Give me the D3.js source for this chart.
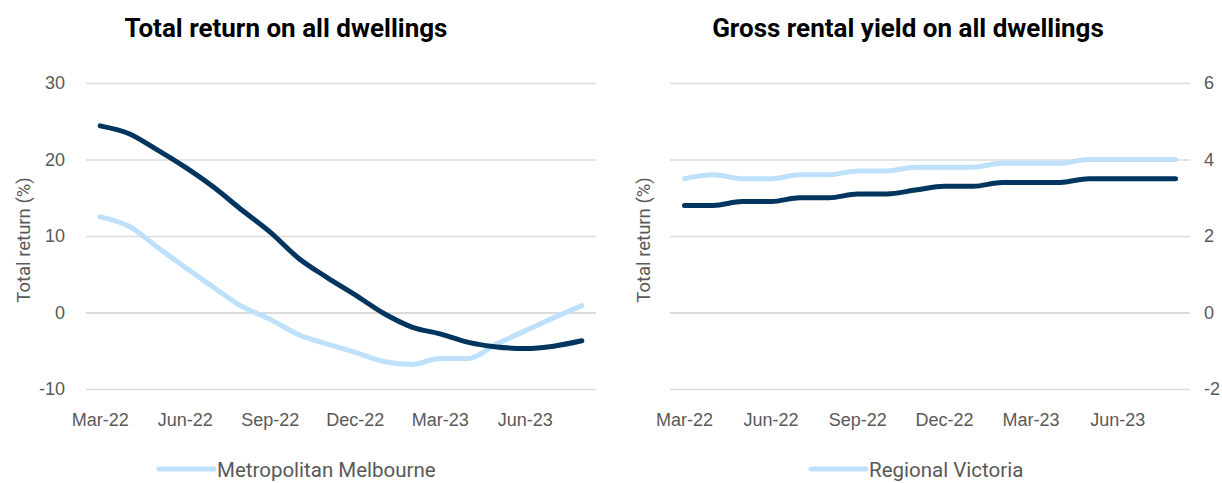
<!DOCTYPE html>
<html>
<head>
<meta charset="utf-8">
<script src="https://cdn.jsdelivr.net/npm/d3@7"></script>
<style>
  body { margin: 0; background: #fff; }
  svg { font-family: Roboto, "Liberation Sans", sans-serif; }
</style>
</head>
<body>
<div class="chart"></div>
<script>
// months Mar-22 .. Aug-23
const months = ["Mar-22","Apr-22","May-22","Jun-22","Jul-22","Aug-22","Sep-22","Oct-22","Nov-22",
  "Dec-22","Jan-23","Feb-23","Mar-23","Apr-23","May-23","Jun-23","Jul-23","Aug-23"];
const tickLabels = ["Mar-22","Jun-22","Sep-22","Dec-22","Mar-23","Jun-23"];

// total return (%)
const returnDark  = [24.4, 23.4, 21.3, 19.0, 16.4, 13.4, 10.5, 7.1, 4.6, 2.3, -0.1, -1.9, -2.8, -3.9, -4.5, -4.7, -4.4, -3.7];
const returnLight = [12.5, 11.3, 8.6, 5.9, 3.3, 0.8, -0.9, -2.9, -4.1, -5.2, -6.4, -6.8, -6.0, -6.0, -4.1, -2.4, -0.7, 0.9];

// gross rental yield (%)
const yieldDark  = [2.8, 2.8, 2.9, 2.9, 3.0, 3.0, 3.1, 3.1, 3.2, 3.3, 3.3, 3.4, 3.4, 3.4, 3.5, 3.5, 3.5, 3.5];
const yieldLight = [3.5, 3.6, 3.5, 3.5, 3.6, 3.6, 3.7, 3.7, 3.8, 3.8, 3.8, 3.9, 3.9, 3.9, 4.0, 4.0, 4.0, 4.0];

const DARK = "#00355f", LIGHT = "#bde0fb", GRID = "#dcdcdc", TXT = "#595959";

const svg = d3.select('.chart').append('svg')
  .attr('width', 1222).attr('height', 483);

function panel(opt) {
  const x = d3.scaleBand().domain(months).range([opt.x0, opt.x1]);
  const y = d3.scaleLinear().domain(opt.domain).range([389, 83]);
  const g = svg.append('g');

  g.append('text')
    .attr('x', opt.titleX).attr('y', 37)
    .attr('text-anchor', 'middle')
    .attr('font-size', 26).attr('font-weight', 'bold').attr('fill', '#000')
    .text(opt.title);

  const axis = (opt.right ? d3.axisRight(y) : d3.axisLeft(y))
    .tickValues(opt.ticks)
    .tickSize(-(opt.x1 - opt.x0))
    .tickPadding(opt.right ? 14 : 21)
    .tickFormat(d => String(d));
  const ag = g.append('g')
    .attr('transform', `translate(${opt.right ? opt.x1 : opt.x0},0)`)
    .call(axis);
  ag.select('.domain').remove();
  ag.selectAll('line').attr('stroke-width', 1.5)
    .attr('stroke', d => d === 0 ? '#cfcfcf' : GRID);
  ag.selectAll('text').attr('fill', TXT).attr('font-size', 18);

  const xa = d3.axisBottom(x).tickValues(tickLabels).tickSize(0).tickPadding(0);
  const xg = g.append('g').attr('transform', 'translate(0,413)').call(xa);
  xg.select('.domain').remove();
  xg.selectAll('text').attr('fill', TXT).attr('font-size', 18);

  g.append('text')
    .attr('transform', `translate(${opt.yTitleX},${opt.yTitleY}) rotate(-90)`)
    .attr('text-anchor', 'middle')
    .attr('font-size', 18.5).attr('fill', TXT)
    .text('Total return (%)');

  const line = d3.line()
    .x((d, i) => x(months[i]) + x.bandwidth() / 2)
    .y(d => y(d))
    .curve(d3.curveMonotoneX);

  g.append('path').datum(opt.light).attr('d', line)
    .attr('fill', 'none').attr('stroke', LIGHT).attr('stroke-width', 5)
    .attr('stroke-linejoin', 'round').attr('stroke-linecap', 'round');
  g.append('path').datum(opt.dark).attr('d', line)
    .attr('fill', 'none').attr('stroke', DARK).attr('stroke-width', 5)
    .attr('stroke-linejoin', 'round').attr('stroke-linecap', 'round');

  // legend (only the light series is visible)
  g.append('line')
    .attr('x1', opt.legX).attr('x2', opt.legX + 55)
    .attr('y1', 469).attr('y2', 469)
    .attr('stroke', LIGHT).attr('stroke-width', 5).attr('stroke-linecap', 'round');
  g.append('text')
    .attr('x', opt.legX + 58).attr('y', 477)
    .attr('font-size', 20.5).attr('fill', TXT)
    .text(opt.legend);
}

panel({
  title: 'Total return on all dwellings', titleX: 286,
  x0: 86, x1: 596, domain: [-10, 30], ticks: [-10, 0, 10, 20, 30],
  yTitleX: 30, yTitleY: 240, right: false,
  light: returnLight, dark: returnDark,
  legX: 159, legend: 'Metropolitan Melbourne'
});

panel({
  title: 'Gross rental yield on all dwellings', titleX: 908,
  x0: 670, x1: 1190, domain: [-2, 6], ticks: [-2, 0, 2, 4, 6],
  yTitleX: 650, yTitleY: 240, right: true,
  light: yieldLight, dark: yieldDark,
  legX: 811, legend: 'Regional Victoria'
});
</script>
</body>
</html>
